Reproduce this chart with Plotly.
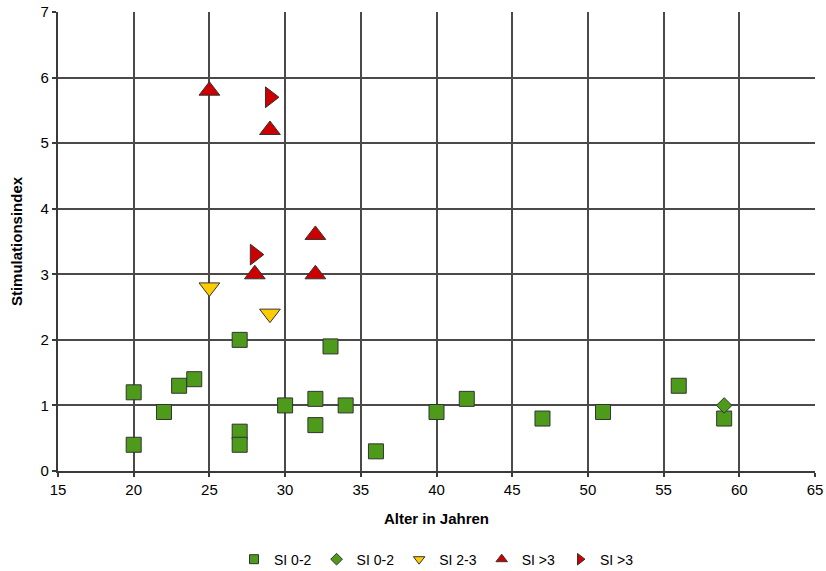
import plotly.graph_objects as go

sq_x = [20, 20, 22, 23, 24, 27, 27, 27, 30, 32, 32, 33, 34, 36, 40, 42, 47, 51, 56, 59]
sq_y = [1.2, 0.4, 0.9, 1.3, 1.4, 2.0, 0.6, 0.4, 1.0, 1.1, 0.7, 1.9, 1.0, 0.3, 0.9, 1.1, 0.8, 0.9, 1.3, 0.8]
dia_x = [59]
dia_y = [1.0]
yel_x = [25, 29]
yel_y = [2.8, 2.4]
up_x = [25, 29, 28, 32, 32]
up_y = [5.8, 5.2, 3.0, 3.6, 3.0]
rt_x = [29, 28]
rt_y = [5.7, 3.3]

green = "#4E9A1A"
red = "#CC0000"
yellow = "#FFCC00"
line = dict(color="#333333", width=1)
FONT = "Liberation Sans, Arial"

series = [
    ("SI 0-2", sq_x, sq_y, "square", 15, 9, green),
    ("SI 0-2", dia_x, dia_y, "diamond", 12, 9, green),
    ("SI 2-3", yel_x, yel_y, "triangle-down", 18, 10, yellow),
    ("SI >3", up_x, up_y, "triangle-up", 18, 10, red),
    ("SI >3", rt_x, rt_y, "triangle-right", 18, 10, red),
]

fig = go.Figure()
for name, xs, ys, sym, size, lsize, col in series:
    fig.add_trace(go.Scatter(x=xs, y=ys, mode="markers", name=name, showlegend=False,
                             marker=dict(symbol=sym, size=size, color=col, line=line)))
for name, xs, ys, sym, size, lsize, col in series:
    fig.add_trace(go.Scatter(x=[None], y=[None], mode="markers", name=name,
                             marker=dict(symbol=sym, size=lsize, color=col, line=line)))

axis_common = dict(showgrid=True, gridcolor="#4a4a4a", gridwidth=1.6, zeroline=False,
                   showline=True, linecolor="#3a3a3a", linewidth=2.2, mirror=False,
                   ticks="outside", ticklen=4, tickcolor="#3a3a3a", tickwidth=1.5,
                   automargin=False,
                   tickfont=dict(family=FONT, size=15, color="#000000"))

fig.update_xaxes(range=[15, 65], dtick=5, title=dict(text="<b>Alter in Jahren</b>", standoff=16,
                 font=dict(family=FONT, size=15, color="#000000")), **axis_common)
fig.update_yaxes(range=[0, 7], dtick=1, title=dict(text="<b>Stimulationsindex</b>", standoff=14,
                 font=dict(family=FONT, size=15, color="#000000")), **axis_common)

fig.update_layout(
    width=826, height=571,
    margin=dict(l=58, r=11, t=12, b=100, autoexpand=False),
    plot_bgcolor="white", paper_bgcolor="white",
    legend=dict(orientation="h", x=0.5, xanchor="center", y=0.02, yanchor="middle",
                yref="container",
                font=dict(family=FONT, size=14, color="#000000"),
                itemwidth=30, tracegroupgap=0),
)
fig.write_html("out.html", config={"displayModeBar": False},
               post_script="document.body.style.margin='0';document.body.style.overflow='hidden';")
